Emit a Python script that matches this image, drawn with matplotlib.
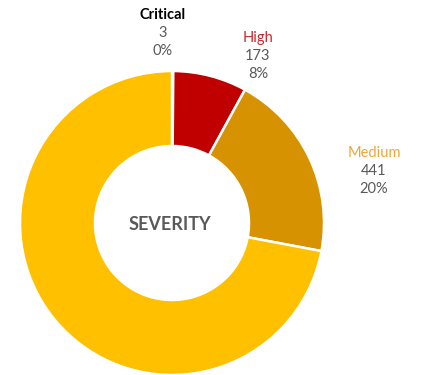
import matplotlib.pyplot as plt

# severity counts
categories = ['Critical', 'High', 'Medium', 'Low']
counts = [3, 173, 441, 1590]
show_label = [True, True, True, False]

slice_colors = ['#7F0000', '#C00000', '#D69200', '#FFC000']
name_colors = ['#000000', '#C9282D', '#EDA63A', None]
name_weights = ['bold', 'normal', 'normal', None]
label_pos = [(163, 360), (258, 337), (374, 222), None]

plt.rcParams['font.family'] = ['Lato', 'DejaVu Sans']

fig = plt.figure(figsize=(4.23, 3.75), dpi=100)
ax = fig.add_axes([0, 0, 1, 1])

ax.pie(counts, colors=slice_colors, startangle=90, counterclock=False,
       center=(172, 152), radius=152,
       wedgeprops=dict(width=75, edgecolor='white', linewidth=1.8))

# pie() resets the limits, so fix the pixel frame afterwards
ax.set_xlim(0, 423)
ax.set_ylim(0, 375)
ax.set_aspect('equal')
ax.axis('off')

ax.text(170, 151, 'SEVERITY', ha='center', va='center',
        fontsize=13, fontweight='bold', color='#595959')

total = sum(counts)
for name, n, show, col, wt, pos in zip(categories, counts, show_label,
                                       name_colors, name_weights, label_pos):
    if not show:
        continue
    x, y = pos
    pct = '{:.0f}%'.format(100 * n / total)
    ax.text(x, y, name, ha='center', va='center', fontsize=10.5,
            color=col, fontweight=wt)
    ax.text(x, y - 18, str(n), ha='center', va='center', fontsize=10.5,
            color='#595959')
    ax.text(x, y - 36, pct, ha='center', va='center', fontsize=10.5,
            color='#595959')

fig.savefig('out.png', dpi=100, facecolor='white')
